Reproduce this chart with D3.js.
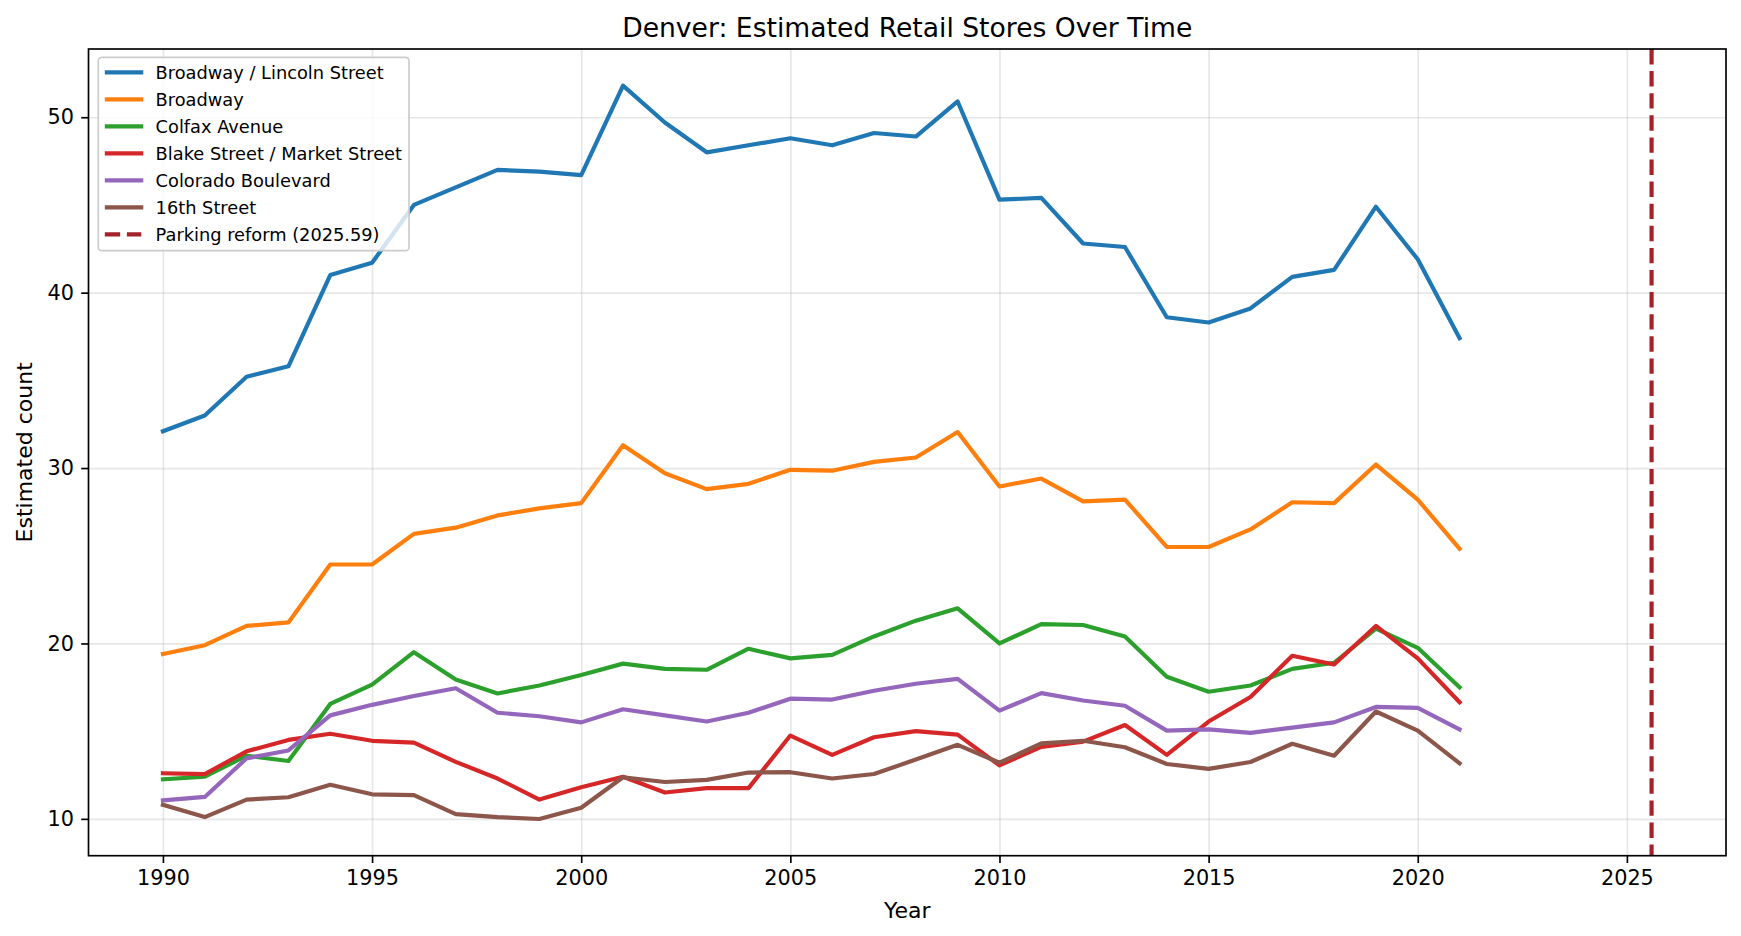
<!DOCTYPE html>
<html>
<head>
<meta charset="utf-8">
<script src="https://cdn.jsdelivr.net/npm/d3@7"></script>
<style>
  body { margin: 0; background: #fff; }
  svg { display: block; font-family: "DejaVu Sans", sans-serif; }
</style>
</head>
<body>
<div id="chart"></div>
<script>
// values
const years = d3.range(1990, 2022);
const seriesNames = [
  "Broadway / Lincoln Street",
  "Broadway",
  "Colfax Avenue",
  "Blake Street / Market Street",
  "Colorado Boulevard",
  "16th Street",
];
const broadwayLincoln = [32.1, 33.0, 35.2, 35.8, 41.0, 41.7, 45.0, 46.0, 47.0, 46.9, 46.7, 51.8, 49.7, 48.0, 48.4, 48.8, 48.4, 49.1, 48.9, 50.9, 45.3, 45.4, 42.8, 42.6, 38.6, 38.3, 39.1, 40.9, 41.3, 44.9, 41.9, 37.4];
const broadway = [19.4, 19.9, 21.0, 21.2, 24.5, 24.5, 26.25, 26.6, 27.3, 27.7, 28.0, 31.3, 29.7, 28.8, 29.1, 29.9, 29.85, 30.35, 30.6, 32.05, 28.95, 29.4, 28.1, 28.2, 25.5, 25.5, 26.5, 28.05, 28.0, 30.2, 28.2, 25.4];
const colfax = [12.25, 12.4, 13.6, 13.3, 16.55, 17.65, 19.5, 17.95, 17.15, 17.6, 18.2, 18.85, 18.55, 18.5, 19.7, 19.15, 19.35, 20.4, 21.3, 22.0, 20.0, 21.1, 21.05, 20.4, 18.1, 17.25, 17.6, 18.55, 18.9, 20.85, 19.75, 17.5];
const blakeMarket = [12.6, 12.55, 13.85, 14.5, 14.85, 14.45, 14.35, 13.25, 12.3, 11.1, 11.8, 12.4, 11.5, 11.75, 11.75, 14.75, 13.65, 14.65, 15.0, 14.8, 13.05, 14.1, 14.4, 15.35, 13.65, 15.55, 16.95, 19.3, 18.8, 21.0, 19.15, 16.65];
const coloradoBlvd = [11.05, 11.25, 13.45, 13.9, 15.9, 16.5, 17.0, 17.45, 16.05, 15.85, 15.5, 16.25, 15.9, 15.55, 16.05, 16.85, 16.8, 17.3, 17.7, 17.98, 16.17, 17.17, 16.75, 16.45, 15.03, 15.1, 14.9, 15.2, 15.5, 16.38, 16.33, 15.1];
const sixteenth = [10.8, 10.1, 11.1, 11.23, 11.94, 11.4, 11.35, 10.27, 10.1, 9.99, 10.63, 12.37, 12.1, 12.22, 12.64, 12.66, 12.3, 12.56, 13.38, 14.22, 13.2, 14.3, 14.45, 14.08, 13.13, 12.85, 13.24, 14.28, 13.6, 16.12, 15.03, 13.17];
const reformYear = 2025.59;
const reformLabel = "Parking reform (2025.59)";
const xTicks = [1990, 1995, 2000, 2005, 2010, 2015, 2020, 2025];
const yTicks = [10, 20, 30, 40, 50];

const seriesValues = [broadwayLincoln, broadway, colfax, blakeMarket, coloradoBlvd, sixteenth];
const colors = ["#1f77b4", "#ff7f0e", "#2ca02c", "#d62728", "#9467bd", "#8c564b"];
const reformColor = "#a4232b";

const W = 1741, H = 936;
const margin = { top: 49, right: W - 1726, bottom: H - 855.7, left: 88.5 };
const width = W - margin.left - margin.right;
const height = H - margin.top - margin.bottom;

const svg = d3.select("#chart").append("svg")
  .attr("width", W).attr("height", H);
svg.append("rect").attr("width", W).attr("height", H).attr("fill", "#fff");

const g = svg.append("g").attr("transform", `translate(${margin.left},${margin.top})`);

// matplotlib-style 5% margins
const allVals = seriesValues.flat();
const xMin = d3.min(years), xMax = reformYear;
const yMin = d3.min(allVals), yMax = d3.max(allVals);
const xPad = (xMax - xMin) * 0.05, yPad = (yMax - yMin) * 0.05;

const x = d3.scaleLinear().domain([xMin - xPad, xMax + xPad]).range([0, width]);
const y = d3.scaleLinear().domain([yMin - yPad, yMax + yPad]).range([height, 0]);

// grid
g.append("g").attr("class", "grid")
  .attr("transform", `translate(0,${height})`)
  .call(d3.axisBottom(x).tickValues(xTicks).tickSize(-height).tickFormat(""))
  .call((s) => s.select(".domain").remove());
g.append("g").attr("class", "grid")
  .call(d3.axisLeft(y).tickValues(yTicks).tickSize(-width).tickFormat(""))
  .call((s) => s.select(".domain").remove());
g.selectAll(".grid line")
  .attr("stroke", "#b0b0b0").attr("stroke-opacity", 0.3).attr("stroke-width", 1.67);

// series
const line = d3.line().x((d, i) => x(years[i])).y((d) => y(d));
seriesValues.forEach((vals, i) => {
  g.append("path")
    .datum(vals)
    .attr("fill", "none")
    .attr("stroke", colors[i])
    .attr("stroke-width", 4.17)
    .attr("stroke-linejoin", "round")
    .attr("stroke-linecap", "square")
    .attr("d", line);
});

// parking reform marker
g.append("line")
  .attr("x1", x(reformYear)).attr("x2", x(reformYear))
  .attr("y1", 0).attr("y2", height)
  .attr("stroke", reformColor)
  .attr("stroke-width", 4.17)
  .attr("stroke-dasharray", "15.4,6.7");

// axes
const xAxis = g.append("g")
  .attr("transform", `translate(0,${height})`)
  .call(d3.axisBottom(x).tickValues(xTicks).tickFormat(d3.format("d")).tickSize(7.3).tickPadding(7.3));
const yAxis = g.append("g")
  .call(d3.axisLeft(y).tickValues(yTicks).tickFormat(d3.format("d")).tickSize(7.3).tickPadding(7.3));
[xAxis, yAxis].forEach((a) => {
  a.select(".domain").remove();
  a.selectAll("line").attr("stroke", "#000").attr("stroke-width", 1.67);
  a.selectAll("text")
    .attr("fill", "#000")
    .style("font-family", "DejaVu Sans")
    .style("font-size", "20.8px");
});

// frame
g.append("rect")
  .attr("width", width).attr("height", height)
  .attr("fill", "none").attr("stroke", "#000").attr("stroke-width", 1.67);

// labels
svg.append("text")
  .attr("x", margin.left + width / 2).attr("y", 36.5)
  .attr("text-anchor", "middle")
  .style("font-size", "26.6px")
  .text("Denver: Estimated Retail Stores Over Time");
svg.append("text")
  .attr("x", margin.left + width / 2).attr("y", 918)
  .attr("text-anchor", "middle")
  .style("font-size", "22px")
  .text("Year");
svg.append("text")
  .attr("transform", `translate(32,${margin.top + height / 2}) rotate(-90)`)
  .attr("text-anchor", "middle")
  .style("font-size", "22px")
  .text("Estimated count");

// legend
const legendItems = seriesNames.map((n, i) => ({ name: n, color: colors[i], dash: null }))
  .concat([{ name: reformLabel, color: reformColor, dash: "15.4,6.7" }]);
const legend = svg.append("g");
const box = legend.append("rect")
  .attr("x", 98.3).attr("y", 57.3)
  .attr("rx", 3.5).attr("ry", 3.5)
  .attr("height", 193.4)
  .attr("fill", "#fff").attr("fill-opacity", 0.8)
  .attr("stroke", "#cccccc").attr("stroke-width", 1.67);
let maxLen = 0;
legendItems.forEach((d, i) => {
  const cy = 72.3 + i * 27;
  legend.append("line")
    .attr("x1", d.dash ? 104.8 : 106.9).attr("x2", d.dash ? 141.3 : 141.2)
    .attr("y1", cy).attr("y2", cy)
    .attr("stroke", d.color)
    .attr("stroke-width", 4.17)
    .attr("stroke-linecap", d.dash ? "butt" : "square")
    .attr("stroke-dasharray", d.dash);
  const t = legend.append("text")
    .attr("x", 155.6).attr("y", cy + 6.6)
    .style("font-size", "17.8px")
    .text(d.name);
  maxLen = Math.max(maxLen, t.node().getComputedTextLength());
});
box.attr("width", 155.6 + maxLen + 7 - 98.3);
</script>
</body>
</html>
